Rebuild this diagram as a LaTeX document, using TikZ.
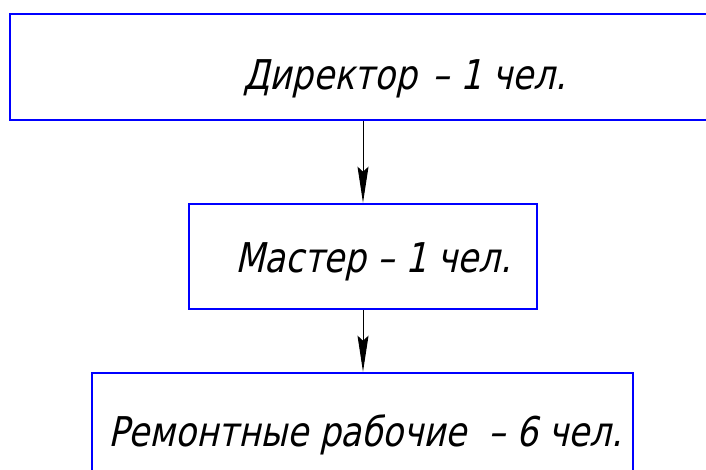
\documentclass[tikz,border=0pt]{standalone}
\usepackage{fontspec}
\newfontfamily\gost[FakeSlant=0.22,FakeStretch=0.83]{DejaVu Sans}
\usetikzlibrary{arrows.meta}
\definecolor{boxblue}{RGB}{0,0,255}
\begin{document}
\begin{tikzpicture}[x=1pt,y=1pt,
  orgbox/.style={draw=boxblue,line width=2.6pt,rectangle,inner sep=0pt},
  lbl/.style={anchor=base west,inner sep=0pt,font=\gost\fontsize{41}{41}\selectfont},
  arr/.style={draw=black,line width=1pt,-{Stealth[length=36pt,width=11pt,inset=5pt]}}]
\useasboundingbox (0,0) rectangle (706,470);
\clip (0,0) rectangle (706,470);
\node[orgbox,minimum width=710pt,minimum height=106pt] (dir) at (365,403) {};
\node[orgbox,minimum width=348pt,minimum height=105pt] (mas) at (363,213.5) {};
\node[orgbox,minimum width=541pt,minimum height=110pt] (rab) at (362.5,42) {};
\node[lbl] (tdir) at (243,380) {Директор\hspace{0.1em}\ – 1 чел.};
\node[lbl] (tmas) at (235,197) {Мастер – 1 чел.};
\node[lbl] (trab) at (108,23) {Ремонтные рабочие\ \ – 6 чел.};
\coordinate (mx) at (363,0);
\draw[arr] (dir.south -| mx) -- (mas.north -| mx);
\draw[arr] (mas.south -| mx) -- (rab.north -| mx);
\end{tikzpicture}
\end{document}
